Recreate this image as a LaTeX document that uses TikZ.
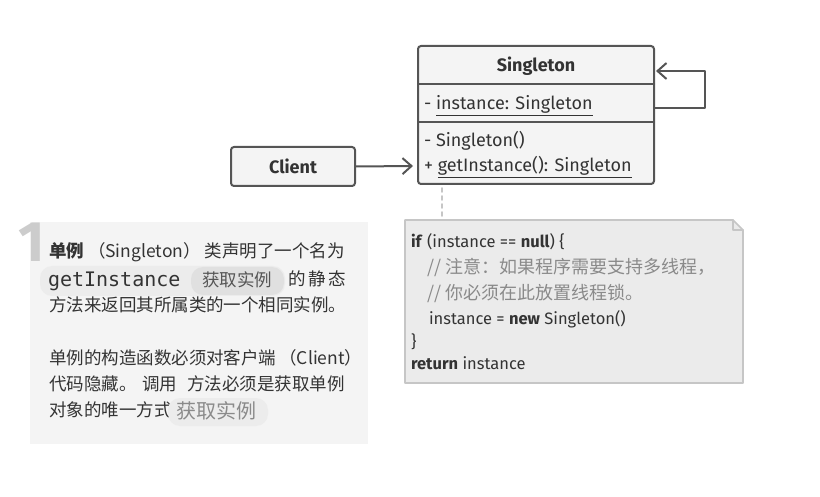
\documentclass[tikz,border=0pt]{standalone}
\usepackage{fontspec}
\setmainfont{Fira Sans}
\newfontfamily\cjk{Noto Sans CJK SC}
\newfontfamily\mono{DejaVu Sans Mono}
\usetikzlibrary{arrows.meta,calc,positioning}
\definecolor{fg}{HTML}{333333}
\definecolor{edge}{HTML}{555555}
\definecolor{boxbg}{HTML}{F4F4F4}
\definecolor{notebg}{HTML}{EBEBEB}
\definecolor{noteedge}{HTML}{C6C6C6}
\definecolor{cmt}{HTML}{8A8A8A}
\definecolor{pill}{HTML}{ECECEC}
\definecolor{pilldark}{HTML}{E0E0E0}
\definecolor{digit}{HTML}{CCCCCC}
\tikzset{
  every picture/.style={fg, line cap=round, line join=round},
  every node/.style={inner sep=0pt, outer sep=0pt},
  % Kästen
  umlbox/.style={draw=edge, fill=boxbg, line width=2pt, rounded corners=3pt},
  sep/.style={edge, line width=2pt},
  % Pfeile
  assoc/.style={edge, line width=2pt, -{Straight Barb[length=9pt,width=16pt,line width=2pt]}},
  link/.style={noteedge, line width=1.6pt, dash pattern=on 4pt off 4pt},
  % Schrift
  uml/.style={font=\fontsize{18}{21}\selectfont, anchor=base west},
  code/.style={font=\fontsize{16.5}{19}\selectfont, anchor=base west},
  cmtline/.style={cmt, font=\cjk\fontsize{18}{21}\selectfont, anchor=base west},
  txt/.style={font=\cjk\fontsize{17.5}{21}\selectfont, anchor=base west},
  pillbox/.style={fill=#1, rounded corners=12pt},
}

\begin{document}
\begin{tikzpicture}[x=1pt, y=-1pt]
  \useasboundingbox (0,0) rectangle (820,497);
  % ---------- Singleton ----------
  \node[umlbox, minimum width=236pt, minimum height=138pt, anchor=north west] (sg) at (418,46) {};
  \draw[sep] (418,84) -- (654,84);
  \draw[sep] (418,122) -- (654,122);
  \node[font=\bfseries\fontsize{18}{21}\selectfont] (sgName) at (536,66) {Singleton};
  \node[uml] (sgAttr) at (424,110) {- \underline{instance: Singleton}};
  \node[uml] (sgCtor) at (424,147) {- Singleton()};
  \node[uml] (sgGet) at (424,172) {+ \underline{getInstance(): Singleton}};
  % Selbstbezug
  \coordinate (loopA) at (655,108);
  \coordinate (loopB) at (656,71);
  \draw[assoc] (loopA) -- (705,108) -- (705,71) -- (loopB);
  % ---------- Client ----------
  \node[umlbox, minimum width=124pt, minimum height=39pt, anchor=north west] (client) at (231,147) {};
  \node[font=\bfseries\fontsize{18}{21}\selectfont] (clientName) at (client.center) {Client};
  \coordinate (sgIn) at (413,166);
  \draw[assoc] (client.east) -- (sgIn);
  % ---------- Notiz ----------
  \draw[noteedge, fill=notebg, line width=1.6pt]
    (405,220) -- (733,220) -- (743,230) -- (743,383) -- (405,383) -- cycle;
  \draw[noteedge, line width=1.6pt] (733,220) -- (733,230) -- (743,230);
  \coordinate (noteTop) at (442,219);
  \coordinate (sgBot) at (442,188);
  \draw[link] (sgBot) -- (noteTop);
  \node[code] (c1) at (411,248) {\textbf{if} (instance == \textbf{null}) \{};
  \node[cmtline] (c2) at (427,274) {// 注意：如果程序需要支持多线程，};
  \node[cmtline] (c3) at (427,300) {// 你必须在此放置线程锁。};
  \node[code] (c4) at (429,325) {instance = \textbf{new} Singleton()};
  \node[code] (c5) at (411,348) {\}};
  \node[code] (c6) at (411,370) {\textbf{return} instance};
  % ---------- Erläuterung ----------
  \fill[boxbg] (30,222) rectangle (368,444);
  \node[font=\bfseries\fontsize{57}{57}\selectfont, digit, anchor=base west] (num) at (18,262) {1};
  \node[txt] (t1) at (49,258) {\textbf{单例}\hspace{4pt}（Singleton）\hspace{4pt}类声明了一个名为};
  \fill[pillbox=pill] (40,266) rectangle (285,296);
  \fill[pillbox=pilldark] (191,267) rectangle (284,295);
  \node[txt, font=\mono\fontsize{20}{22}\selectfont] (t2a) at (48,287) {getInstance};
  \node[txt, font=\cjk\fontsize{17.5}{20}\selectfont, text=edge] (t2b) at (202,287) {获取实例};
  \node[txt] (t2c) at (288,286) {的\,静\,态};
  \node[txt] (t3) at (49,312) {方法来返回其所属类的一个相同实例。};
  \node[txt] (t4) at (49,364) {单例的构造函数必须对客户端\hspace{3pt}（Client）};
  \node[txt] (t5) at (49,390) {代码隐藏。\hspace{6pt}调用\hspace{10pt}方法必须是获取单例};
  \node[txt] (t6) at (49,416) {对象的唯一方式};
  \fill[pillbox=pill] (168,398) rectangle (268,426);
  \node[txt, font=\cjk\fontsize{20}{22}\selectfont, text=cmt] (t6b) at (176,418) {获取实例};
\end{tikzpicture}
\end{document}
